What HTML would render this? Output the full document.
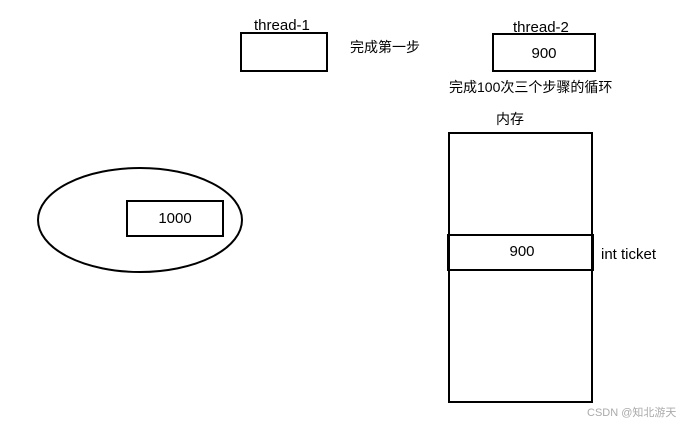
<!DOCTYPE html>
<html><head><meta charset="utf-8"><style>
body{margin:0;width:692px;height:426px;background:#fff;overflow:hidden}
text{font-family:"Liberation Sans","Noto Sans CJK SC",sans-serif;font-size:15px;fill:#000}
</style></head><body>
<svg width="692" height="426" xmlns="http://www.w3.org/2000/svg">
<g fill="none" stroke="#000" stroke-width="2">
<rect x="241" y="33" width="86" height="38"/>
<rect x="493" y="34" width="102" height="37"/>
<rect x="449" y="133" width="143" height="269"/>
<rect x="448" y="235" width="145" height="35"/>
<ellipse cx="140" cy="220" rx="102" ry="52"/>
<rect x="127" y="201" width="96" height="35"/>
</g>
<text x="254" y="30">thread-1</text>
<text x="350" y="52" style="font-size:14px">完成第一步</text>
<text x="513" y="32">thread-2</text>
<text x="544" y="58" text-anchor="middle">900</text>
<text x="449" y="92" style="font-size:14px">完成100次三个步骤的循环</text>
<text x="496" y="124" style="font-size:14px">内存</text>
<text x="522" y="256" text-anchor="middle">900</text>
<text x="601" y="259">int ticket</text>
<text x="175" y="223" text-anchor="middle">1000</text>
<text x="587" y="416" style="font-size:11px;fill:#aaa">CSDN @知北游天</text>
</svg>
</body></html>
